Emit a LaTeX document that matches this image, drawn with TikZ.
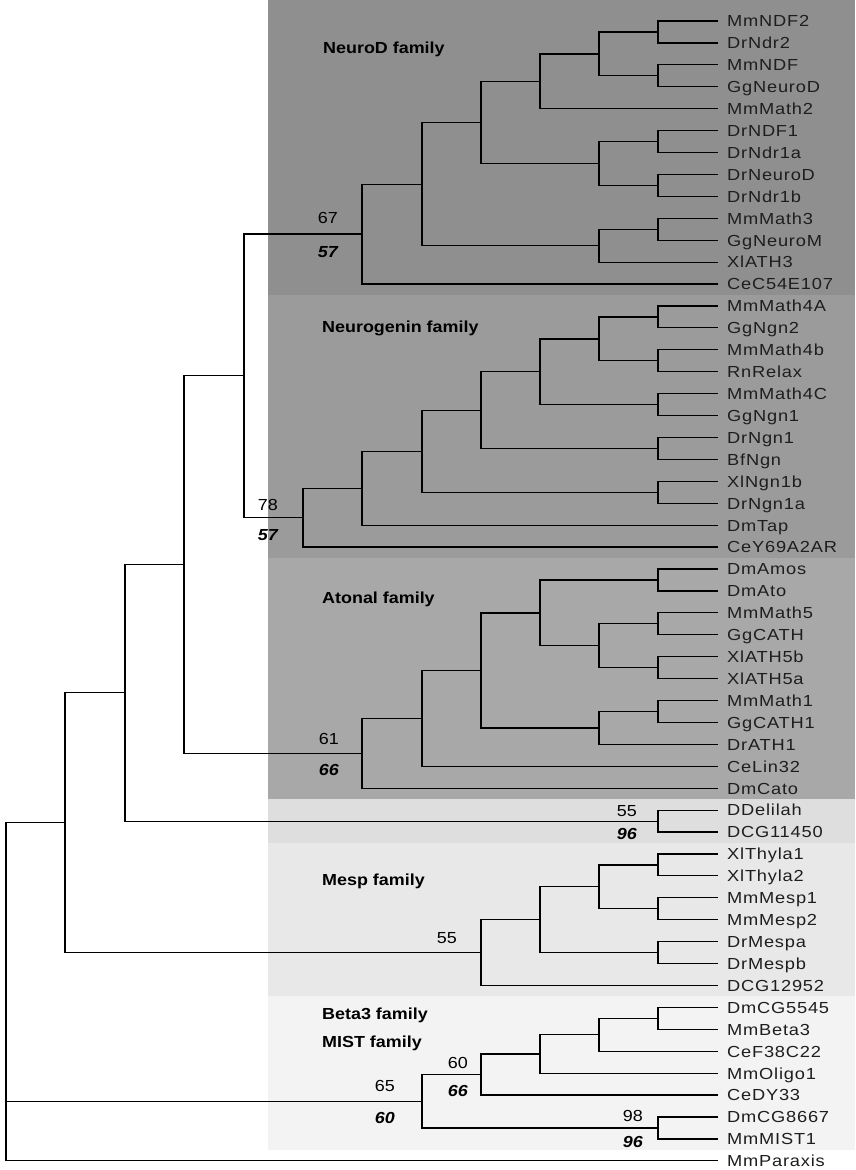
\documentclass[tikz,border=0pt]{standalone}
\usepackage{fontspec}
\setmainfont{Liberation Sans}[FakeStretch=1.12]
\newfontfamily\leaffont{Liberation Sans}[FakeStretch=1.14,LetterSpace=5]
\definecolor{bandA}{RGB}{143,143,143}
\definecolor{bandB}{RGB}{155,155,155}
\definecolor{bandC}{RGB}{168,168,168}
\definecolor{bandD}{RGB}{222,222,222}
\definecolor{bandE}{RGB}{232,232,232}
\definecolor{bandF}{RGB}{243,243,243}
\definecolor{labtext}{RGB}{30,30,30}
\begin{document}
\begin{tikzpicture}[x=1pt,y=-1pt,
  br/.style={line width=1.2pt, black},
  leaf/.style={anchor=west, inner xsep=9pt, inner ysep=0pt, text height=14.7pt, text depth=3pt, font=\leaffont\fontsize{16}{18}\selectfont, text=labtext},
  fam/.style={anchor=west, inner sep=0pt, font=\bfseries\fontsize{16}{18}\selectfont},
  bs/.style={anchor=east, inner sep=0pt, text height=11.5pt, text depth=0pt, font=\fontsize{16}{18}\selectfont},
  bsi/.style={bs, font=\bfseries\itshape\fontsize{16}{18}\selectfont}]
\useasboundingbox (0,0) rectangle (855,1170);
\fill[white] (0,0) rectangle (855,1170);
% family bands
\fill[bandA] (268,0) rectangle (855,295);
\fill[bandB] (268,295) rectangle (855,558);
\fill[bandC] (268,558) rectangle (855,799);
\fill[bandD] (268,799) rectangle (855,843);
\fill[bandE] (268,843) rectangle (855,996);
\fill[bandF] (268,996) rectangle (855,1150);
% family names
\node[fam] (fNeuroD) at (323,49) {NeuroD family};
\node[fam] (fNgn) at (322,328) {Neurogenin family};
\node[fam] (fAto) at (322,599) {Atonal family};
\node[fam] (fMesp) at (322,881) {Mesp family};
\node[fam] (fBeta) at (322,1015) {Beta3 family};
\node[fam] (fMist) at (322,1043) {MIST family};
% leaves
\foreach \n [count=\i from 0] in {MmNDF2,DrNdr2,MmNDF,GgNeuroD,MmMath2,DrNDF1,DrNdr1a,DrNeuroD,DrNdr1b,MmMath3,GgNeuroM,XlATH3,CeC54E107,
  MmMath4A,GgNgn2,MmMath4b,RnRelax,MmMath4C,GgNgn1,DrNgn1,BfNgn,XlNgn1b,DrNgn1a,DmTap,CeY69A2AR,
  DmAmos,DmAto,MmMath5,GgCATH,XlATH5b,XlATH5a,MmMath1,GgCATH1,DrATH1,CeLin32,DmCato,
  DDelilah,DCG11450,
  XlThyla1,XlThyla2,MmMesp1,MmMesp2,DrMespa,DrMespb,DCG12952,
  DmCG5545,MmBeta3,CeF38C22,MmOligo1,CeDY33,DmCG8667,MmMIST1,MmParaxis}
  \node[leaf] (l\i) at (718,{21+21.92*\i}) {\n};
% internal nodes
\coordinate (A1) at (658,32.0);
\coordinate (A2) at (658,75.8);
\coordinate (A3) at (599,53.9);
\coordinate (A4) at (540,81.3);
\coordinate (A5) at (658,141.6);
\coordinate (A6) at (658,185.4);
\coordinate (A7) at (599,163.5);
\coordinate (A8) at (481,122.4);
\coordinate (A9) at (658,229.3);
\coordinate (A10) at (599,245.7);
\coordinate (A11) at (422,184.1);
\coordinate (A12) at (362,234.0);
\coordinate (B1) at (658,317.0);
\coordinate (B2) at (658,360.8);
\coordinate (B3) at (599,338.9);
\coordinate (B4) at (658,404.6);
\coordinate (B5) at (540,371.7);
\coordinate (B6) at (658,448.5);
\coordinate (B7) at (481,410.1);
\coordinate (B8) at (658,492.3);
\coordinate (B9) at (422,451.2);
\coordinate (B10) at (362,488.2);
\coordinate (B11) at (303,517.6);
\coordinate (C) at (244,375.8);
\coordinate (D1) at (658,580.0);
\coordinate (D2) at (658,623.8);
\coordinate (D3) at (658,667.6);
\coordinate (D4) at (599,645.7);
\coordinate (D5) at (540,612.9);
\coordinate (D6) at (658,711.5);
\coordinate (D7) at (599,727.9);
\coordinate (D8) at (481,670.4);
\coordinate (D9) at (422,718.3);
\coordinate (D10) at (362,753.3);
\coordinate (E) at (184,564.5);
\coordinate (F) at (658,821.1);
\coordinate (G) at (125,692.8);
\coordinate (H1) at (658,864.9);
\coordinate (H2) at (658,908.8);
\coordinate (H3) at (599,886.8);
\coordinate (H4) at (658,952.6);
\coordinate (H5) at (540,919.7);
\coordinate (H6) at (481,952.6);
\coordinate (I) at (65,822.7);
\coordinate (J1) at (658,1018.4);
\coordinate (J2) at (599,1034.8);
\coordinate (J3) at (540,1054.0);
\coordinate (J4) at (481,1074.5);
\coordinate (J5) at (658,1128.0);
\coordinate (J6) at (422,1101.3);
\coordinate (R) at (6,1101.3);
% branches
\foreach \p/\c in {A1/l0,A1/l1,A2/l2,A2/l3,A3/A1,A3/A2,A4/A3,A4/l4,A5/l5,A5/l6,A6/l7,A6/l8,
  A7/A5,A7/A6,A8/A4,A8/A7,A9/l9,A9/l10,A10/A9,A10/l11,A11/A8,A11/A10,A12/A11,A12/l12,
  B1/l13,B1/l14,B2/l15,B2/l16,B3/B1,B3/B2,B4/l17,B4/l18,B5/B3,B5/B4,B6/l19,B6/l20,
  B7/B5,B7/B6,B8/l21,B8/l22,B9/B7,B9/B8,B10/B9,B10/l23,B11/B10,B11/l24,C/A12,C/B11,
  D1/l25,D1/l26,D2/l27,D2/l28,D3/l29,D3/l30,D4/D2,D4/D3,D5/D1,D5/D4,D6/l31,D6/l32,
  D7/D6,D7/l33,D8/D5,D8/D7,D9/D8,D9/l34,D10/D9,D10/l35,E/C,E/D10,F/l36,F/l37,G/E,G/F,
  H1/l38,H1/l39,H2/l40,H2/l41,H3/H1,H3/H2,H4/l42,H4/l43,H5/H3,H5/H4,H6/H5,H6/l44,I/G,I/H6,
  J1/l45,J1/l46,J2/J1,J2/l47,J3/J2,J3/l48,J4/J3,J4/l49,J5/l50,J5/l51,J6/J4,J6/J5,
  R/I,R/J6,R/l52}
  \draw[br] (\p) |- (\c);
% bootstrap values
\node[bs] (s1) at (338,218) {67};
\node[bsi] (s2) at (338,252) {57};
\node[bs] (s3) at (278,505) {78};
\node[bsi] (s4) at (278,535) {57};
\node[bs] (s5) at (339,739) {61};
\node[bsi] (s6) at (339,770) {66};
\node[bs] (s7) at (637,811) {55};
\node[bsi] (s8) at (637,834) {96};
\node[bs] (s9) at (457,938) {55};
\node[bs] (s10) at (395,1086) {65};
\node[bsi] (s11) at (395,1118) {60};
\node[bs] (s12) at (468,1063) {60};
\node[bsi] (s13) at (468,1091) {66};
\node[bs] (s14) at (643,1116) {98};
\node[bsi] (s15) at (643,1142) {96};
\end{tikzpicture}
\end{document}
